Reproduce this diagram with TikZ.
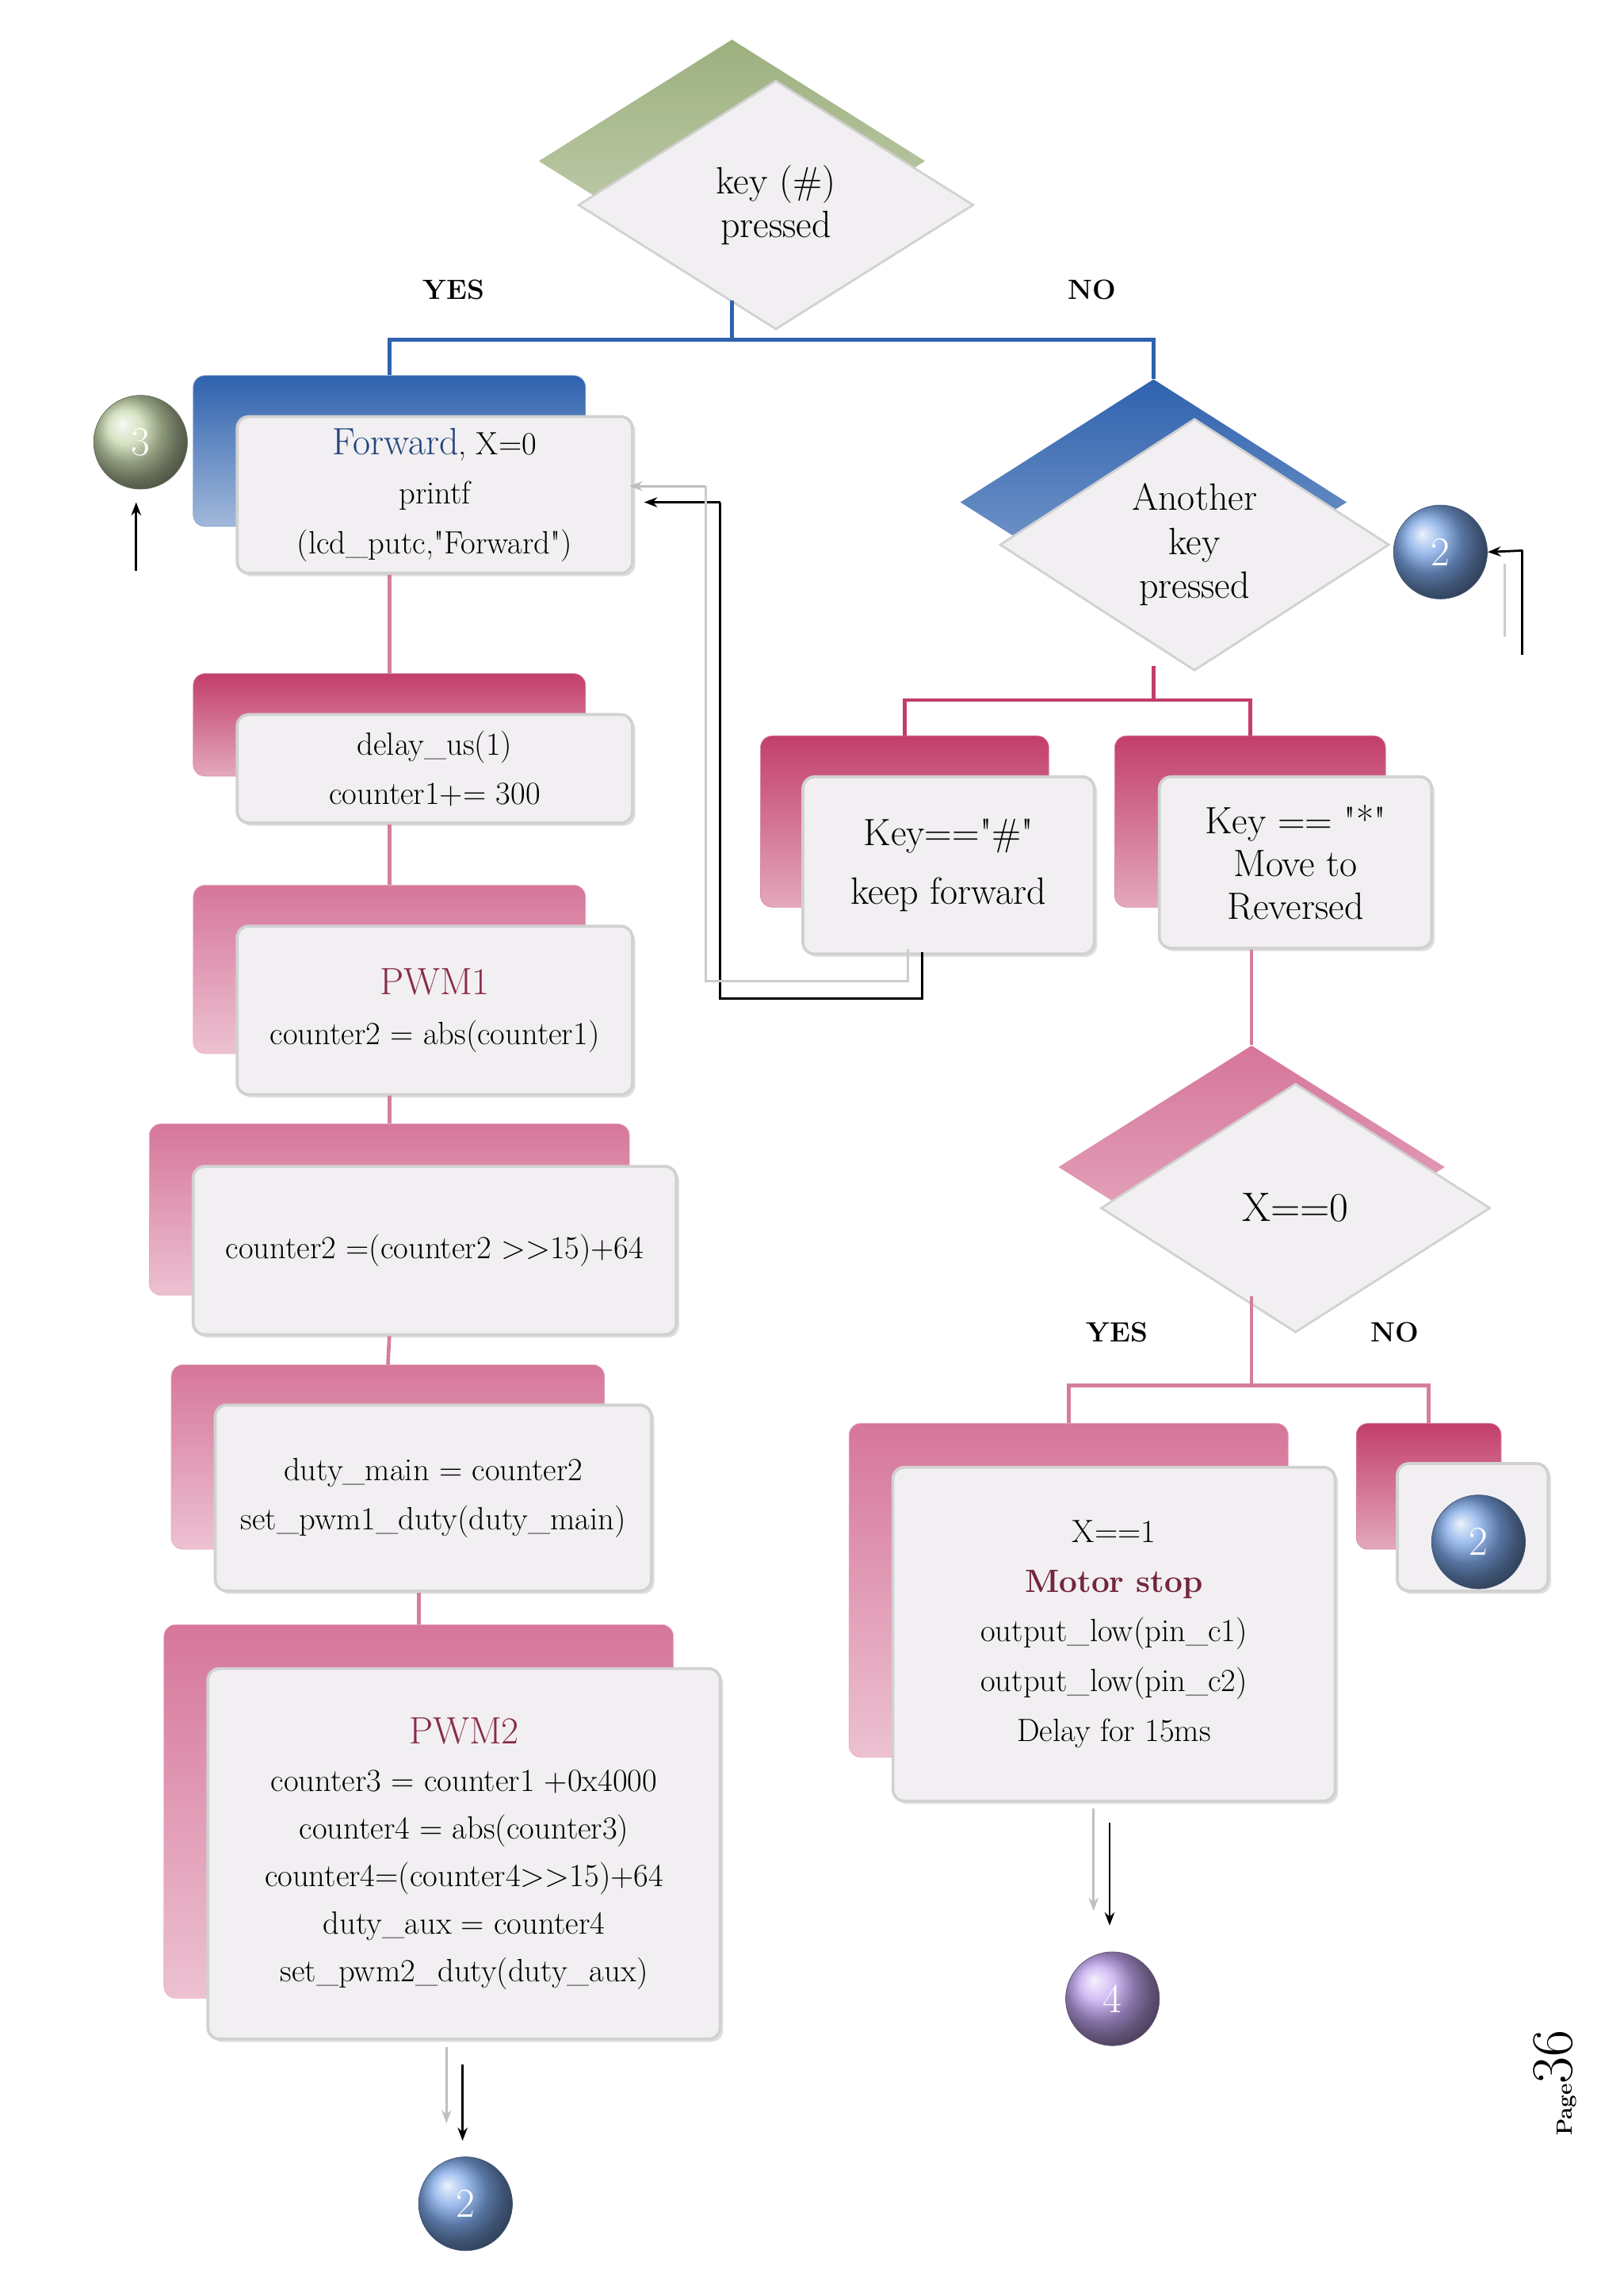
\documentclass[tikz,border=0pt]{standalone}
\usepackage{fontspec}
\usetikzlibrary{shapes.geometric,arrows.meta,shadows}
\definecolor{bluB}{HTML}{2F62AE}
\definecolor{pnkB}{HTML}{C23E6B}
\definecolor{pnkL}{HTML}{D6769A}
\definecolor{grnB}{HTML}{9DB07E}
\definecolor{ballG}{HTML}{C8D8AE}
\definecolor{ballB}{HTML}{7CA6E6}
\definecolor{ballV}{HTML}{C2A6F0}
\definecolor{lnP}{HTML}{D47E9C}
\definecolor{frnt}{HTML}{F2EFF2}
\newcommand{\qq}{\textquotedbl}
\begin{document}
\begin{tikzpicture}[x=1pt,y=-1pt,
  front/.style={rectangle,rounded corners=8pt,fill=frnt,draw=black!18,line width=2pt,align=center,inner sep=0pt,font=\fontsize{22}{34}\selectfont,drop shadow={opacity=0.25,shadow xshift=2pt,shadow yshift=-2pt}},
  back/.style={rectangle,rounded corners=8pt,top color=#1,bottom color=#1!45,draw=#1!60,inner sep=0pt},
  dfront/.style={diamond,fill=frnt,draw=black!18,line width=1.5pt,inner sep=0pt,align=center,font=\fontsize{26}{30}\selectfont},
  dback/.style={diamond,top color=#1,bottom color=#1!55,draw=none,inner sep=0pt},
  ball/.style={circle,minimum size=64pt,inner sep=0pt,ball color=#1,draw=#1!50!black,text=white,font=\fontsize{28}{30}\selectfont},
  ln/.style={line width=2.5pt,draw=#1},
  lab/.style={font=\bfseries\fontsize{19}{22}\selectfont},
  arr/.style={-{Stealth[length=9pt]},line width=1.5pt},
  garr/.style={-{Stealth[length=9pt]},line width=1.5pt,draw=black!25}]
\useasboundingbox (0,0) rectangle (1109,1568);
% diamond 1
\node[dback=grnB,minimum width=264,minimum height=166] (d1b) at (500,110) {};
\node[dfront,minimum width=270,minimum height=170] (d1) at (530,140) {key (\#)\\pressed};
\node[lab] (y1) at (310,198) {YES};
\node[lab] (n1) at (746,198) {NO};
% forward box
\node[back=bluB,minimum width=268,minimum height=103] (fwb) at (266,308) {};
\node[front,minimum width=270,minimum height=107] (fw) at (297,338) {\textcolor{bluB!70!black}{\fontsize{26}{30}\selectfont Forward}, X=0\\printf\\(lcd\_putc,\qq Forward\qq)};
\node[ball=ballG] (c3) at (96,302) {3};
\coordinate (c3a) at (93,390); \coordinate (c3b) at (93,343);
\draw[arr] (c3a) -- (c3b);
% diamond 2
\node[dback=bluB,minimum width=264,minimum height=168] (d2b) at (788,343) {};
\node[dfront,minimum width=266,minimum height=172] (d2) at (816,372) {Another\\key\\pressed};
\node[ball=ballB] (c2a) at (984,377) {2};
\coordinate (r1) at (1040,447); \coordinate (r2) at (1040,376);
\draw[line width=1.5pt] (r1) -- (r2); \draw[arr] (r2) -- (c2a.east);
\coordinate (r3) at (1028,435); \coordinate (r4) at (1028,385);
\draw[line width=1.5pt,black!20] (r3) -- (r4);
% connectors top
\coordinate (j1) at (500,232);
\coordinate (j0) at (500,205);
\draw[ln=bluB] (j0) -- (j1) -| (fwb.north);
\draw[ln=bluB] (j1) -| (d2b.north);
% right boxes
\node[back=pnkB,minimum width=197,minimum height=117] (kfb) at (618,561) {};
\node[front,minimum width=199,minimum height=121,font=\fontsize{26}{40}\selectfont] (kf) at (648,591) {Key==\qq\#\qq\\keep forward};
\node[back=pnkB,minimum width=185,minimum height=117] (ksb) at (854,561) {};
\node[front,minimum width=186,minimum height=117,font=\fontsize{26}{29}\selectfont] (ks) at (885,589) {Key == \qq*\qq\\Move to\\Reversed};
\coordinate (j2) at (788,478);
\coordinate (j2t) at (788,455);
\draw[ln=pnkB] (j2t) -- (j2) -| (kfb.north);
\draw[ln=pnkB] (j2) -| (ksb.north);
% feedback arrows
\coordinate (f1) at (630,650); \coordinate (f2) at (630,682); \coordinate (f3) at (492,682); \coordinate (f4) at (492,343);
\draw[line width=1.5pt] (f1) -- (f2) -- (f3) -- (f4); \coordinate (f5) at (440,343); \draw[arr] (f4) -- (f5);
\coordinate (g1) at (620,648); \coordinate (g2) at (620,670); \coordinate (g3) at (482,670); \coordinate (g4) at (482,332); \coordinate (g5) at (430,332);
\draw[line width=1.5pt,black!20] (g1) -- (g2) -- (g3) -- (g4); \draw[garr] (g4) -- (g5);
% diamond 3
\node[dback=pnkL,minimum width=264,minimum height=166] (d3b) at (855,797) {};
\node[dfront,minimum width=266,minimum height=170,font=\fontsize{28}{30}\selectfont] (d3) at (885,825) {X==0};
\draw[ln=lnP] (ks.south -| d3b.north) -- (d3b.north);
\node[lab] (y2) at (763,910) {YES};
\node[lab] (n2) at (953,910) {NO};
\node[back=pnkL,minimum width=300,minimum height=228] (msb) at (730,1086) {};
\node[front,minimum width=302,minimum height=228] (ms) at (761,1116) {X==1\\\textbf{\textcolor{pnkB!60!black}{Motor stop}}\\output\_low(pin\_c1)\\output\_low(pin\_c2)\\Delay for 15ms};
\node[back=pnkB,minimum width=99,minimum height=86] (smb) at (976,1015) {};
\node[front,minimum width=103,minimum height=87] (sm) at (1006,1043) {};
\node[ball=ballB] (c2b) at (1010,1053) {2};
\coordinate (j3) at (855,946);
\coordinate (j3t) at (855,885);
\draw[ln=lnP] (j3t) -- (j3) -| (msb.north);
\draw[ln=lnP] (j3) -| (smb.north);
\node[ball=ballV] (c4) at (760,1365) {4};
\coordinate (a1) at (758,1245); \coordinate (a2) at (758,1315);
\coordinate (a3) at (747,1235); \coordinate (a4) at (747,1305);
\draw[garr] (a3) -- (a4); \draw[arr] (a1) -- (a2);
% left column
\node[back=pnkB,minimum width=268,minimum height=70] (dlb) at (266,495) {};
\node[front,minimum width=270,minimum height=74] (dl) at (297,525) {delay\_us(1)\\counter1+= 300};
\node[back=pnkL,minimum width=268,minimum height=115] (p1b) at (266,662) {};
\node[front,minimum width=270,minimum height=115] (p1) at (297,690) {\textcolor{pnkB!70!black}{\fontsize{26}{30}\selectfont PWM1}\\counter2 = abs(counter1)};
\node[back=pnkL,minimum width=328,minimum height=117] (c2bx) at (266,826) {};
\node[front,minimum width=330,minimum height=115] (c2x) at (297,854) {counter2 =(counter2 {>}{>}15)+64};
\node[back=pnkL,minimum width=296,minimum height=126] (dmb) at (265,995) {};
\node[front,minimum width=298,minimum height=127] (dm) at (296,1023) {duty\_main = counter2\\set\_pwm1\_duty(duty\_main)};
\node[back=pnkL,minimum width=348,minimum height=255] (p2b) at (286,1237) {};
\node[front,minimum width=350,minimum height=253,font=\fontsize{22}{32.5}\selectfont] (p2) at (317,1266) {\textcolor{pnkB!70!black}{\fontsize{26}{30}\selectfont PWM2}\\counter3 = counter1 +0x4000\\counter4 = abs(counter3)\\counter4=(counter4{>}{>}15)+64\\duty\_aux = counter4\\set\_pwm2\_duty(duty\_aux)};
\draw[ln=lnP] (fw.south -| fwb.north) -- (dlb.north);
\draw[ln=lnP] (dl.south -| dlb.north) -- (p1b.north);
\draw[ln=lnP] (p1.south -| p1b.north) -- (c2bx.north);
\draw[ln=lnP] (c2x.south -| c2bx.north) -- (dmb.north);
\draw[ln=lnP] (dm.south -| p2b.north) -- (p2b.north);
\node[ball=ballB] (c2c) at (318,1505) {2};
\coordinate (b1) at (316,1410); \coordinate (b2) at (316,1462);
\coordinate (b3) at (305,1398); \coordinate (b4) at (305,1450);
\draw[garr] (b3) -- (b4); \draw[arr] (b1) -- (b2);
% page
\node[rotate=90,anchor=west] (pg) at (1062,1462) {\fontsize{15}{16}\selectfont\textbf{Page}\fontsize{40}{40}\selectfont 36};
\end{tikzpicture}
\end{document}
